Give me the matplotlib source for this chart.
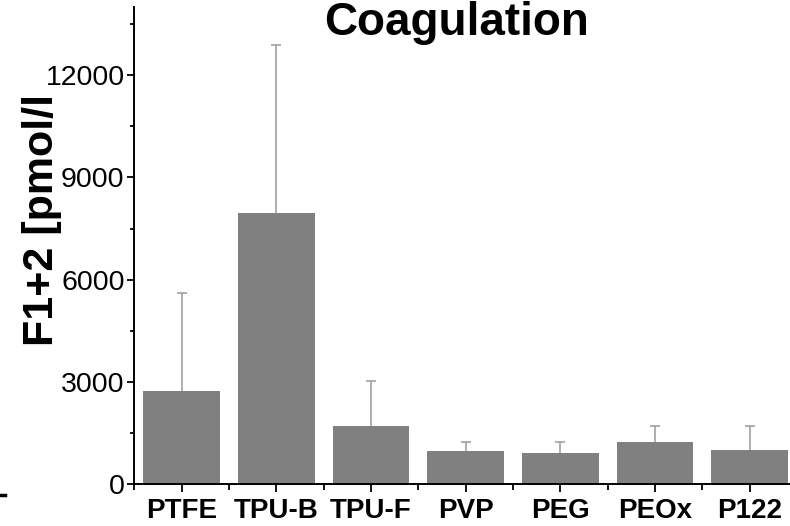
"""Coagulation — F1+2 par matériau (moyenne + écart-type supérieur)."""
import numpy as np
import matplotlib
matplotlib.use("Agg")
import matplotlib.pyplot as plt
from matplotlib.lines import Line2D
from matplotlib.ticker import MultipleLocator, FixedLocator

materials = ["PTFE", "TPU-B", "TPU-F", "PVP", "PEG", "PEOx", "P122"]
f12_mean = [2730, 7950, 1710, 985, 910, 1250, 1005]
f12_sd = [2890, 4930, 1330, 265, 320, 450, 695]

W, H = 790, 526
fig = plt.figure(figsize=(W / 100, H / 100), dpi=100)
# l'axe déborde volontairement à droite (image d'origine rognée)
ax = fig.add_axes([134.3 / W, 1 - 484.3 / H, (797 - 134.3) / W, (484.3 - 7) / H])

x = np.arange(len(materials))
ax.bar(x, f12_mean, width=0.81, color="#808080", zorder=2)
eb = ax.errorbar(x, f12_mean, yerr=[np.zeros(len(x)), f12_sd], fmt="none",
                 ecolor="#999999", elinewidth=1.1, capsize=3.6, capthick=1.1, zorder=3)
eb[1][0].set_visible(False)  # pas de cap en bas (erreur inférieure nulle)

ax.set_xlim(-0.5, 6.5)
ax.set_ylim(0, 14000)
ax.yaxis.set_major_locator(MultipleLocator(3000))
ax.yaxis.set_minor_locator(MultipleLocator(1500))
ax.set_xticks(x)
ax.xaxis.set_minor_locator(FixedLocator(np.arange(-0.5, 6.6, 1)))
ax.set_xticklabels(materials, family="Liberation Sans", fontweight="bold", fontsize=20)
for lbl in ax.get_yticklabels():
    lbl.set_family("Liberation Sans")
    lbl.set_fontsize(20.5)

ax.tick_params(axis="y", which="major", direction="out", length=5, width=1.3, pad=2)
ax.tick_params(axis="y", which="minor", direction="out", length=3, width=1.3)
ax.tick_params(axis="x", which="major", direction="out", length=6, width=1.3, pad=4)
ax.tick_params(axis="x", which="minor", direction="out", length=4, width=1.3)
for s in ("top", "right"):
    ax.spines[s].set_visible(False)
for s in ("left", "bottom"):
    ax.spines[s].set_linewidth(1.4)

ax.set_ylabel("F1+2 [pmol/l", family="Liberation Sans", fontweight="bold", fontsize=31)
ax.yaxis.set_label_coords(-0.109, 0.5535)

fig.text(457 / W, 1 - 35 / H, "Coagulation", family="Liberation Sans",
         fontweight="bold", fontsize=33, ha="center", va="baseline")
# petit trait résiduel en bas à gauche
fig.add_artist(Line2D([0, 5 / W], [1 - 495 / H] * 2, color="k", lw=2.5))

fig.savefig("out.png", dpi=100)
